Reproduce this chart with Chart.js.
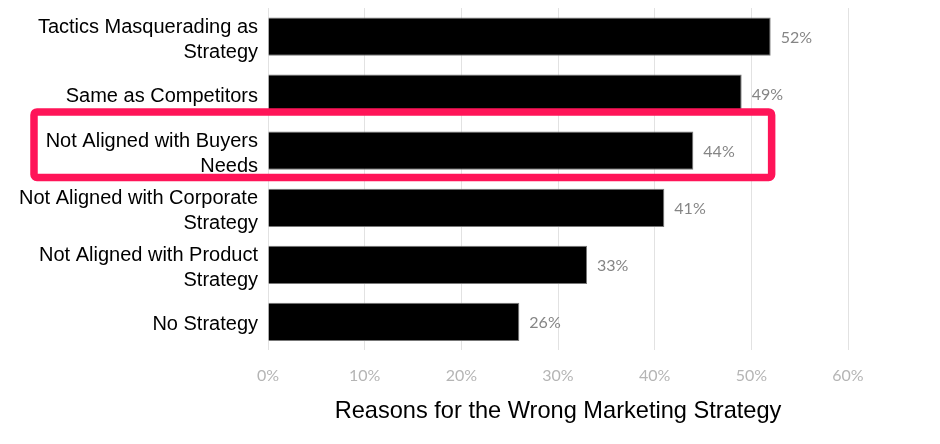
<!DOCTYPE html>
<html lang="en">
<head>
    <meta charset="UTF-8">
    <title>Reasons for the Wrong Marketing Strategy</title>
    <script src="https://cdn.jsdelivr.net/npm/chart.js"></script>
    <style>
        body { margin: 0; background: #fff; }
    </style>
</head>
<body>
    <canvas id="myChart" width="940" height="444"></canvas>

    <script>
        // data
        const categories = [
            ['Tactics Masquerading as', 'Strategy'],
            ['Same as Competitors'],
            ['Not Aligned with Buyers', 'Needs'],
            ['Not Aligned with Corporate', 'Strategy'],
            ['Not Aligned with Product', 'Strategy'],
            ['No Strategy']
        ];
        const shares = [52, 49, 44, 41, 33, 26];
        const xTicks = [0, 10, 20, 30, 40, 50, 60];
        const highlightIndex = 2;

        // value labels to the right of each bar
        const valueLabels = {
            id: 'valueLabels',
            afterDatasetsDraw(chart) {
                const ctx = chart.ctx;
                const meta = chart.getDatasetMeta(0);
                ctx.save();
                ctx.font = '16px Lato';
                ctx.fillStyle = '#858585';
                ctx.textAlign = 'left';
                ctx.textBaseline = 'middle';
                meta.data.forEach((bar, i) => {
                    ctx.fillText(shares[i] + '%', bar.x + 10, bar.y + 1);
                });
                ctx.restore();
            }
        };

        // pink box around the highlighted row
        const highlightBox = {
            id: 'highlightBox',
            afterDraw(chart) {
                const ctx = chart.ctx;
                const y = chart.scales.y;
                const x = chart.scales.x;
                const step = y.getPixelForValue(1) - y.getPixelForValue(0);
                const cy = y.getPixelForValue(highlightIndex);
                const top = cy - 0.68 * step;
                const bottom = cy + 0.47 * step;
                const left = 34;
                const right = x.getPixelForValue(52.1);
                ctx.save();
                ctx.strokeStyle = '#ff1458';
                ctx.lineWidth = 7.5;
                ctx.beginPath();
                ctx.roundRect(left, top, right - left, bottom - top, 3);
                ctx.stroke();
                ctx.restore();
            }
        };

        const ctx = document.getElementById('myChart').getContext('2d');
        new Chart(ctx, {
            type: 'bar',
            data: {
                labels: categories,
                datasets: [{
                    data: shares,
                    backgroundColor: '#000',
                    borderColor: '#777',
                    borderWidth: 1,
                    barPercentage: 0.67,
                    categoryPercentage: 1
                }]
            },
            options: {
                indexAxis: 'y',
                responsive: false,
                animation: false,
                layout: {
                    padding: { top: 8, right: 92, bottom: 18, left: 0 }
                },
                plugins: {
                    legend: { display: false },
                    tooltip: { enabled: false }
                },
                scales: {
                    x: {
                        min: 0,
                        max: 60,
                        afterBuildTicks: (scale) => {
                            scale.ticks = xTicks.map(v => ({ value: v }));
                        },
                        grid: {
                            color: '#e2e2e2',
                            drawTicks: false
                        },
                        border: { display: false },
                        ticks: {
                            padding: 16,
                            color: '#b5b5b5',
                            font: { family: 'Lato', size: 16 },
                            callback: (v) => v + '%'
                        },
                        title: {
                            display: true,
                            text: 'Reasons for the Wrong Marketing Strategy',
                            color: '#000',
                            font: { family: 'Liberation Sans', size: 23.6 },
                            padding: { top: -4, bottom: 0 }
                        }
                    },
                    y: {
                        afterFit: (scale) => {
                            scale.width = 268;
                            scale.paddingTop = 0;
                            scale.paddingBottom = 0;
                        },
                        grid: { display: false },
                        border: { display: false },
                        ticks: {
                            autoSkip: false,
                            padding: 2,
                            labelOffset: 3,
                            color: '#000',
                            font: { family: 'Liberation Sans', size: 20, lineHeight: 1.25 }
                        }
                    }
                }
            },
            plugins: [valueLabels, highlightBox]
        });
    </script>
</body>
</html>
